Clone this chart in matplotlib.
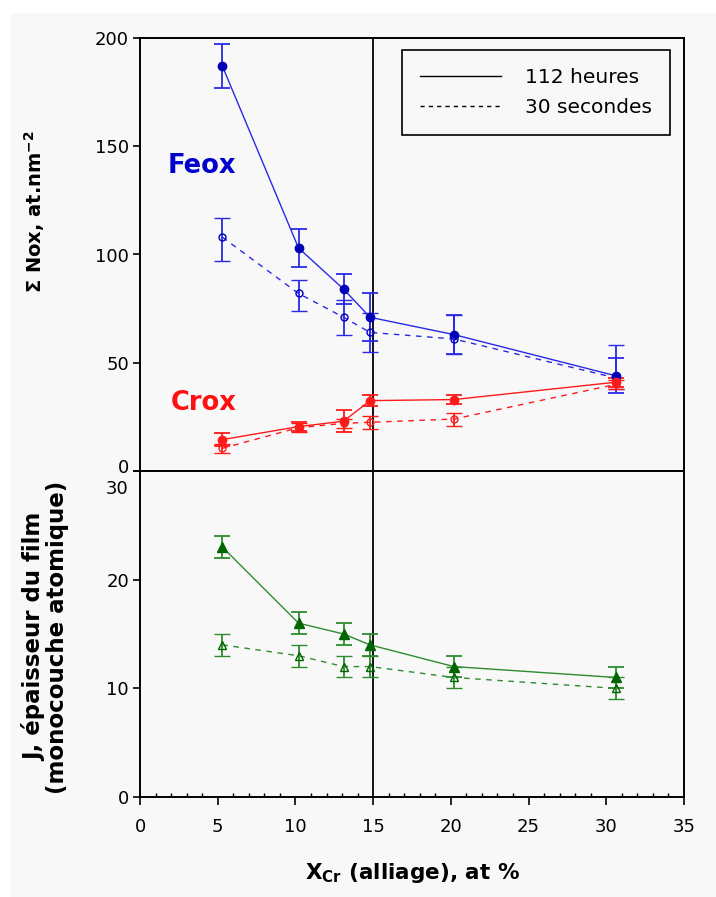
import matplotlib
matplotlib.use("Agg")
import matplotlib.pyplot as plt
import matplotlib.transforms as mtransforms
from matplotlib.lines import Line2D
from matplotlib.patches import Rectangle
from matplotlib.ticker import MultipleLocator

# ---- data ----
x_cr = [5.3, 10.2, 13.1, 14.8, 20.2, 30.6]

feox_112h = [187, 103, 84, 71, 63, 44]
feox_112h_err = [10, 9, 7, 11, 9, 8]
feox_30s = [108, 82, 71, 64, 61, 43]
feox_30s_err_lo = [11, 8, 8, 9, 7, 5]
feox_30s_err_hi = [9, 6, 8, 9, 11, 15]

crox_112h = [14.5, 20.5, 23, 32.5, 33, 41]
crox_112h_err = [3, 2, 5, 2.5, 2, 2]
crox_30s = [10.5, 20, 22, 22.5, 24, 40]
crox_30s_err = [2, 2, 2, 3, 3, 2]

j_112h = [23, 16, 15, 14, 12, 11]
j_112h_err = [1, 1, 1, 1, 1, 1]
j_30s = [14, 13, 12, 12, 11, 10]
j_30s_err = [1, 1, 1, 1, 1, 1]

x_ticks = [0, 5, 10, 15, 20, 25, 30, 35]
top_yticks = [0, 50, 100, 150, 200]
bot_yticks = [0, 10, 20, 30]
legend_labels = ["112 heures", "30 secondes"]

# ---- figure ----
W, H = 716, 897
fig = plt.figure(figsize=(W / 100, H / 100), dpi=100)
bg = "#f8f8f8"
fig.patch.set_facecolor("white")
fig.add_artist(Rectangle((10 / W, 0), 1, 1 - 13 / H, transform=fig.transFigure,
                         facecolor=bg, edgecolor="none", zorder=-10))

left = 140 / W
right = 684 / W
y_top = 1 - 38 / H
y_mid = 1 - 471 / H
y_bot = 1 - 797 / H

ax1 = fig.add_axes([left, y_mid, right - left, y_top - y_mid])
ax2 = fig.add_axes([left, y_bot, right - left, y_mid - y_bot])
for ax in (ax1, ax2):
    ax.set_facecolor(bg)
    for s in ax.spines.values():
        s.set_linewidth(1.4)
        s.set_color("black")

BLUE_L = "#2a2ae6"
BLUE_M = "#0000b8"
RED = "#ff1a1a"
GREEN_L = "#2e8b2e"
GREEN_M = "#006400"

ekw = dict(capsize=6, elinewidth=1.3, capthick=1.3)

# Feox
ax1.errorbar(x_cr, feox_112h, yerr=feox_112h_err, color=BLUE_L, lw=1.0, ls="-",
             marker="o", ms=6, mfc=BLUE_M, mec=BLUE_M, ecolor=BLUE_L, **ekw, zorder=3)
ax1.errorbar(x_cr, feox_30s, yerr=[feox_30s_err_lo, feox_30s_err_hi], color=BLUE_L, lw=1.0,
             ls=(0, (4, 4)), marker="o", ms=5, mfc="none", mec=BLUE_M, mew=1.0,
             ecolor=BLUE_L, **ekw, zorder=3)
# Crox
ax1.errorbar(x_cr, crox_112h, yerr=crox_112h_err, color=RED, lw=1.0, ls="-",
             marker="o", ms=6, mfc=RED, mec=RED, ecolor=RED, **ekw, zorder=3)
ax1.errorbar(x_cr, crox_30s, yerr=crox_30s_err, color=RED, lw=1.0, ls=(0, (4, 4)),
             marker="o", ms=5, mfc="none", mec=RED, mew=1.0, ecolor=RED, **ekw, zorder=3)

# J
ax2.errorbar(x_cr, j_112h, yerr=j_112h_err, color=GREEN_L, lw=1.0, ls="-",
             marker="^", ms=7, mfc=GREEN_M, mec=GREEN_M, ecolor=GREEN_L, **ekw, zorder=3)
ax2.errorbar(x_cr, j_30s, yerr=j_30s_err, color=GREEN_L, lw=1.0, ls=(0, (4, 4)),
             marker="^", ms=6, mfc="none", mec=GREEN_M, mew=1.0, ecolor=GREEN_L, **ekw, zorder=3)

# vertical reference line at 15%
for ax in (ax1, ax2):
    ax.axvline(15, color="black", lw=1.3, zorder=2)
    ax.set_xlim(0, 35)

ax1.set_ylim(0, 200)
ax2.set_ylim(0, 30)
ax1.set_yticks(top_yticks)
ax2.set_yticks(bot_yticks)
ax1.set_xticks([])
ax2.set_xticks(x_ticks)
ax2.xaxis.set_minor_locator(MultipleLocator(1))
ax2.tick_params(axis="x", which="major", direction="out", length=6, width=1.2, labelsize=13, pad=9)
ax2.tick_params(axis="x", which="minor", direction="in", length=3, width=1.0)
for ax in (ax1, ax2):
    ax.tick_params(axis="y", direction="out", length=5, width=1.2, labelsize=13, pad=3)

# nudge the two labels that meet at the panel junction
t0 = ax1.yaxis.get_major_ticks()[0].label1
t0.set_transform(t0.get_transform() + mtransforms.ScaledTranslation(0, 5 / 100, fig.dpi_scale_trans))
t30 = ax2.yaxis.get_major_ticks()[-1].label1
t30.set_transform(t30.get_transform() + mtransforms.ScaledTranslation(0, -16 / 100, fig.dpi_scale_trans))

# labels
ax1.set_ylabel("Σ Nox, at.nm$^{\\mathbf{-2}}$", fontsize=14, fontweight="bold")
ax1.yaxis.set_label_coords(-(140 - 47) / 544, (471 - 212) / 433)
ax2.set_ylabel("J, épaisseur du film\n(monocouche atomique)", fontsize=16.5,
               fontweight="bold", linespacing=1.0)
ax2.yaxis.set_label_coords(-(140 - 69) / 544, 0.49)
ax2.set_xlabel("X$_{\\mathbf{Cr}}$ (alliage), at %", fontsize=15.5, fontweight="bold", labelpad=18)

ax1.text(1.75, (471 - 166) / 433 * 200, "Feox", color="#0000cc", fontsize=18.5,
         fontweight="bold", va="center", ha="left")
ax1.text(2.0, (471 - 403) / 433 * 200, "Crox", color="#ff1010", fontsize=18.5,
         fontweight="bold", va="center", ha="left")

handles = [Line2D([], [], color="black", lw=1.0, ls="-"),
           Line2D([], [], color="black", lw=1.0, ls=(0, (3, 3)))]
leg = ax1.legend(handles, legend_labels, loc="upper right", fontsize=14.5,
                 frameon=True, fancybox=False, edgecolor="black", facecolor=bg,
                 framealpha=1, handlelength=4.0, handletextpad=1.2,
                 bbox_to_anchor=((670 - 140) / 544, (471 - 50) / 433),
                 borderaxespad=0, borderpad=0.9, labelspacing=0.55)
leg.get_frame().set_linewidth(1.2)

fig.savefig("out.png", dpi=100, facecolor=fig.get_facecolor())
